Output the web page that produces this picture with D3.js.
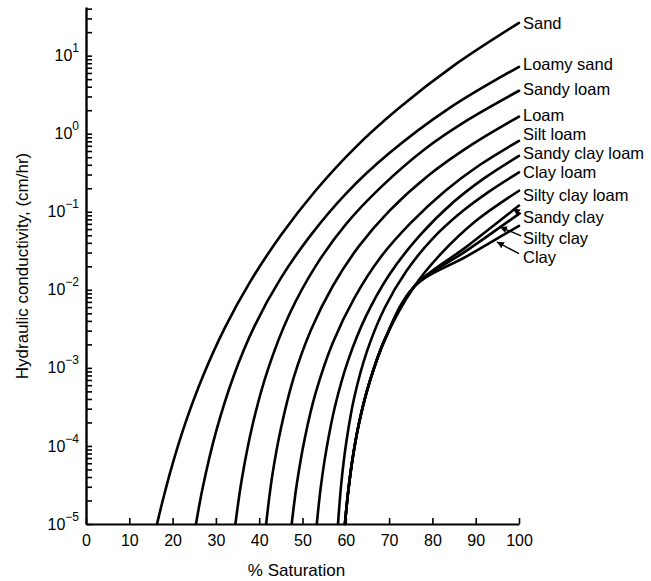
<!DOCTYPE html>
<html>
<head>
<meta charset="utf-8">
<script src="https://cdn.jsdelivr.net/npm/d3@7"></script>
<style>
  body { margin: 0; background: #fff; }
  svg { display: block; font-family: "Liberation Sans", Arial, Helvetica, sans-serif; }
</style>
</head>
<body>
<svg width="651" height="581"></svg>
<script>
// hydraulic conductivity (cm/hr) against % saturation
const soilNames = ["Sand", "Loamy sand", "Sandy loam", "Loam", "Silt loam", "Sandy clay loam",
                   "Clay loam", "Silty clay loam", "Sandy clay", "Silty clay", "Clay"];

const sand          = [[16.4, 1e-5], [18, 2.3e-5], [20, 5.9e-5], [23, 2.0e-4], [27, 7.8e-4], [32, 3.2e-3],
                       [38, 0.0129], [45, 0.050], [53, 0.186], [62, 0.65], [72, 2.07], [85, 7.5], [100, 26.3]];
const loamySand     = [[25.4, 1e-5], [27, 3.0e-5], [30, 1.5e-4], [34, 7.6e-4], [39, 3.5e-3], [45, 0.0141],
                       [52, 0.051], [60, 0.17], [70, 0.56], [84, 2.14], [100, 7.2]];
const sandyLoam     = [[34.5, 1e-5], [36, 3.8e-5], [38.5, 1.9e-4], [42, 9.5e-4], [47, 4.9e-3], [53, 0.020],
                       [60, 0.069], [68, 0.204], [78, 0.62], [88, 1.48], [100, 3.55]];
const loam          = [[41.6, 1e-5], [43, 4.1e-5], [45, 1.66e-4], [48, 7.6e-4], [52, 3.1e-3], [57, 0.0112],
                       [63, 0.036], [70, 0.102], [79, 0.29], [89, 0.72], [100, 1.66]];
const siltLoam      = [[47.5, 1e-5], [48.7, 3.3e-5], [50.5, 1.23e-4], [53, 4.7e-4], [57, 2.1e-3], [62, 7.9e-3],
                       [68, 0.026], [75, 0.072], [83, 0.186], [91, 0.40], [100, 0.81]];
const sandyClayLoam = [[53.3, 1e-5], [54.2, 2.9e-5], [55.5, 8.9e-5], [57.5, 3.2e-4], [60.5, 1.23e-3], [64.5, 4.4e-3],
                       [70, 0.0155], [77, 0.049], [85, 0.135], [92, 0.27], [100, 0.52]];
const clayLoam      = [[58.2, 1e-5], [59, 3.5e-5], [60.2, 1.2e-4], [62, 4.3e-4], [65, 1.7e-3], [69, 5.9e-3],
                       [74, 0.0174], [80, 0.045], [87, 0.102], [93, 0.18], [100, 0.32]];
// the four finest soils share one trace up to about 76 % saturation
const siltyClayLoam = [[59.8, 1e-5], [60.5, 2.45e-5], [61.5, 6.5e-5], [63, 1.9e-4], [65.5, 6.6e-4], [69, 2.3e-3],
                       [75.8, 0.011], [82, 0.029], [90, 0.076], [100, 0.186]];
const sandyClay     = [[59.8, 1e-5], [60.5, 2.45e-5], [61.5, 6.5e-5], [63, 1.9e-4], [65.5, 6.6e-4], [69, 2.3e-3],
                       [75.8, 0.011], [88, 0.036], [100, 0.12]];
const siltyClay     = [[59.8, 1e-5], [60.5, 2.45e-5], [61.5, 6.5e-5], [63, 1.9e-4], [65.5, 6.6e-4], [69, 2.3e-3],
                       [75.8, 0.011], [88, 0.032], [100, 0.094]];
const clay          = [[59.8, 1e-5], [60.5, 2.45e-5], [61.5, 6.5e-5], [63, 1.9e-4], [65.5, 6.6e-4], [69, 2.3e-3],
                       [75.8, 0.011], [88, 0.027], [100, 0.066]];

const curves = [sand, loamySand, sandyLoam, loam, siltLoam, sandyClayLoam,
                clayLoam, siltyClayLoam, sandyClay, siltyClay, clay];

// where each name sits at the right end (K value of its centre line)
const labelK = [26, 7.7, 3.66, 1.7, 0.99, 0.57, 0.32, 0.165, 0.086, 0.046, 0.026];

// small pointer arrows for the last three names: [saturation, K]
const arrowFrom = [[100.5, 0.094], [100.5, 0.049], [100, 0.029]];
const arrowTo   = [[98.6, 0.109], [95.6, 0.064], [94.9, 0.041]];

const xTicks = [0, 10, 20, 30, 40, 50, 60, 70, 80, 90, 100];
const yDecades = [1e-5, 1e-4, 1e-3, 1e-2, 1e-1, 1, 10];
const yExponents = ["\u22125", "\u22124", "\u22123", "\u22122", "\u22121", "0", "1"];

const svg = d3.select("svg"),
      margin = {top: 7, left: 86},
      width = 433,
      height = 517;

const g = svg.append("g").attr("transform", `translate(${margin.left},${margin.top})`);

const x = d3.scaleLinear().domain([0, 100]).range([0, width]);
const y = d3.scaleLog().domain([1e-5, 42]).range([height, 0]);

// x axis, ticks pointing up into the plot
const xAxis = g.append("g")
  .attr("transform", `translate(0,${height})`)
  .call(d3.axisBottom(x).tickValues(xTicks).tickSizeInner(-6).tickSizeOuter(0).tickPadding(11));
xAxis.select(".domain").attr("stroke-width", 2.2);
xAxis.selectAll(".tick line").attr("stroke-width", 1.6);
xAxis.selectAll(".tick text").attr("font-size", 16).attr("font-family", null).attr("fill", "#000");

// y axis, log minor ticks pointing right
const yAxis = g.append("g")
  .call(d3.axisLeft(y).tickSizeInner(-6).tickSizeOuter(0).tickFormat(""));
yAxis.select(".domain").attr("stroke-width", 2.4);
yAxis.selectAll(".tick line").attr("stroke-width", 1.6);

const yLab = g.append("g").attr("font-size", 16).attr("text-anchor", "end");
yDecades.forEach((d, i) => {
  const t = yLab.append("text").attr("x", -7).attr("y", y(d)).attr("dy", "0.35em");
  t.append("tspan").text("10");
  t.append("tspan").attr("font-size", 12).attr("dy", "-0.75em").text(yExponents[i]);
});

// axis titles
svg.append("text")
  .attr("x", margin.left + width / 2 - 6).attr("y", 576)
  .attr("text-anchor", "middle").attr("font-size", 17)
  .text("% Saturation");

svg.append("text")
  .attr("transform", `translate(28,${margin.top + 259}) rotate(-90)`)
  .attr("text-anchor", "middle").attr("font-size", 17)
  .text("Hydraulic conductivity, (cm/hr)");

// curves
const line = d3.line()
  .x(d => x(d[0]))
  .y(d => y(d[1]))
  .curve(d3.curveCatmullRom.alpha(0.5));

g.selectAll(".curve")
  .data(curves)
  .enter()
  .append("path")
  .attr("class", "curve")
  .attr("d", line)
  .attr("fill", "none")
  .attr("stroke", "#000")
  .attr("stroke-width", 2.6)
  .attr("stroke-linecap", "round");

// names at the right end
g.selectAll(".name")
  .data(soilNames)
  .enter()
  .append("text")
  .attr("class", "name")
  .attr("x", x(100) + 4)
  .attr("y", (d, i) => y(labelK[i]))
  .attr("dy", "0.35em")
  .attr("font-size", 16.5)
  .text(d => d);

// pointer arrows
svg.append("defs").append("marker")
  .attr("id", "head")
  .attr("viewBox", "0 0 10 10")
  .attr("refX", 10).attr("refY", 5)
  .attr("markerWidth", 7).attr("markerHeight", 7)
  .attr("markerUnits", "userSpaceOnUse")
  .attr("orient", "auto")
  .append("path")
  .attr("d", "M0,0L10,5L0,10Z")
  .attr("fill", "#000");

g.selectAll(".arrow")
  .data(arrowFrom)
  .enter()
  .append("line")
  .attr("class", "arrow")
  .attr("x1", d => x(d[0]))
  .attr("y1", d => y(d[1]))
  .attr("x2", (d, i) => x(arrowTo[i][0]))
  .attr("y2", (d, i) => y(arrowTo[i][1]))
  .attr("stroke", "#000")
  .attr("stroke-width", 1.4)
  .attr("marker-end", "url(#head)");
</script>
</body>
</html>
